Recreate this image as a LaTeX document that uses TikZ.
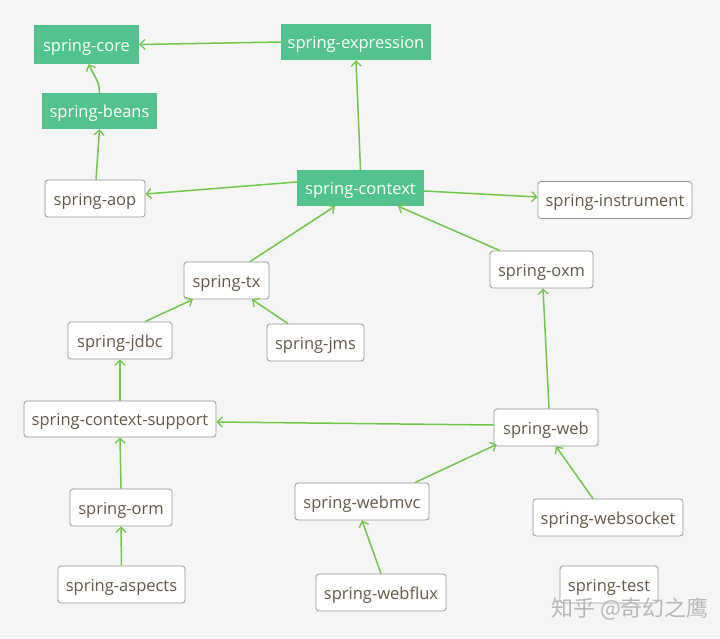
\documentclass[tikz,border=0pt]{standalone}
\usepackage{fontspec}
\setmainfont{Open Sans}
\newfontfamily\cjkfont{Noto Sans CJK SC}
\usetikzlibrary{arrows.meta}
\definecolor{bgc}{RGB}{245,245,245}
\definecolor{gfill}{RGB}{82,195,140}
\definecolor{txtc}{RGB}{102,88,72}
\definecolor{edgec}{RGB}{112,200,72}
\definecolor{bordc}{RGB}{150,150,150}
\tikzset{
  lbl/.style={inner sep=0pt, font=\fontsize{16.5}{19}\selectfont, text height=13.5pt, text depth=0.5pt},
  gbox/.style={lbl, fill=gfill, draw=none, text=white},
  wbox/.style={lbl, fill=white, draw=bordc, line width=0.8pt, rounded corners=3pt, text=txtc},
  dep/.style={draw=edgec, line width=1.5pt, -{Straight Barb[length=5pt,width=10pt,line width=1.3pt]}},
}
\begin{document}
\begin{tikzpicture}[x=1pt,y=-1pt]
\fill[bgc] (0,0) rectangle (720,638);
\useasboundingbox (0,0) rectangle (720,638);
% green nodes
\node[gbox, minimum width=105pt, minimum height=39pt] (core) at (86.5,44.5) {spring-core};
\node[gbox, minimum width=150pt, minimum height=36pt] (expr) at (356,42) {spring-expression};
\node[gbox, minimum width=115pt, minimum height=36pt] (beans) at (99.5,111) {spring-beans};
\node[gbox, minimum width=127pt, minimum height=36pt] (context) at (360.5,188) {spring-context};
% white nodes
\node[wbox, minimum width=100pt, minimum height=37pt] (aop) at (95,198.5) {spring-aop};
\node[wbox, minimum width=154pt, minimum height=37pt] (instr) at (615,200) {spring-instrument};
\node[wbox, minimum width=85pt, minimum height=37pt] (tx) at (226.5,280.5) {spring-tx};
\node[wbox, minimum width=103pt, minimum height=37pt] (oxm) at (541.5,269.5) {spring-oxm};
\node[wbox, minimum width=104pt, minimum height=37pt] (jdbc) at (120,340.5) {spring-jdbc};
\node[wbox, minimum width=97pt, minimum height=37pt] (jms) at (315.5,342.5) {spring-jms};
\node[wbox, minimum width=192pt, minimum height=36pt] (cs) at (120,419) {spring-context-support};
\node[wbox, minimum width=104pt, minimum height=37pt] (web) at (546,427.5) {spring-web};
\node[wbox, minimum width=102pt, minimum height=37pt] (orm) at (121,507.5) {spring-orm};
\node[wbox, minimum width=134pt, minimum height=37pt] (webmvc) at (362,501.5) {spring-webmvc};
\node[wbox, minimum width=150pt, minimum height=37pt] (websocket) at (608,517.5) {spring-websocket};
\node[wbox, minimum width=127pt, minimum height=37pt] (aspects) at (121.5,584.5) {spring-aspects};
\node[wbox, minimum width=130pt, minimum height=37pt] (webflux) at (381,592.5) {spring-webflux};
\node[wbox, minimum width=98pt, minimum height=37pt] (test) at (609,584.5) {spring-test};
% watermark
\node[text=black!28, font=\cjkfont\fontsize{22}{24}\selectfont, inner sep=0pt] (wm) at (630,609) {知乎 @奇幻之鹰};
% connectors
\draw[dep] (expr.west) -- (core.east);
\draw[dep] (beans.north) to[out=90,in=-65] ([xshift=2pt]core.south);
\draw[dep] ([xshift=1pt]aop.north) -- (beans.south);
\draw[dep] (context.north) -- (expr.south);
\draw[dep] ([yshift=6pt]context.west) -- ([yshift=4.5pt]aop.east);
\draw[dep] ([yshift=-3pt]context.east) -- ([yshift=3pt]instr.west);
\draw[dep] ([xshift=23.5pt]tx.north) -- ([xshift=-25.5pt]context.south);
\draw[dep] ([xshift=-41.5pt]oxm.north) -- ([xshift=37.5pt]context.south);
\draw[dep] ([xshift=25pt]jdbc.north) -- ([xshift=-33.5pt]tx.south);
\draw[dep] ([xshift=-27.5pt]jms.north) -- ([xshift=25.5pt]tx.south);
\draw[dep] (cs.north) -- (jdbc.south);
\draw[dep] ([xshift=3pt]web.north) -- ([xshift=1.5pt]oxm.south);
\draw[dep] ([yshift=2.5pt]web.west) -- ([yshift=-3pt]cs.east);
\draw[dep] ([xshift=53pt]webmvc.north) -- ([xshift=3pt,yshift=2pt]web.south west);
\draw[dep] ([xshift=-15pt]websocket.north) -- ([xshift=10pt]web.south);
\draw[dep] (webflux.north) -- (webmvc.south);
\draw[dep] (orm.north) -- (cs.south);
\draw[dep] (aspects.north) -- (orm.south);
\end{tikzpicture}
\end{document}
